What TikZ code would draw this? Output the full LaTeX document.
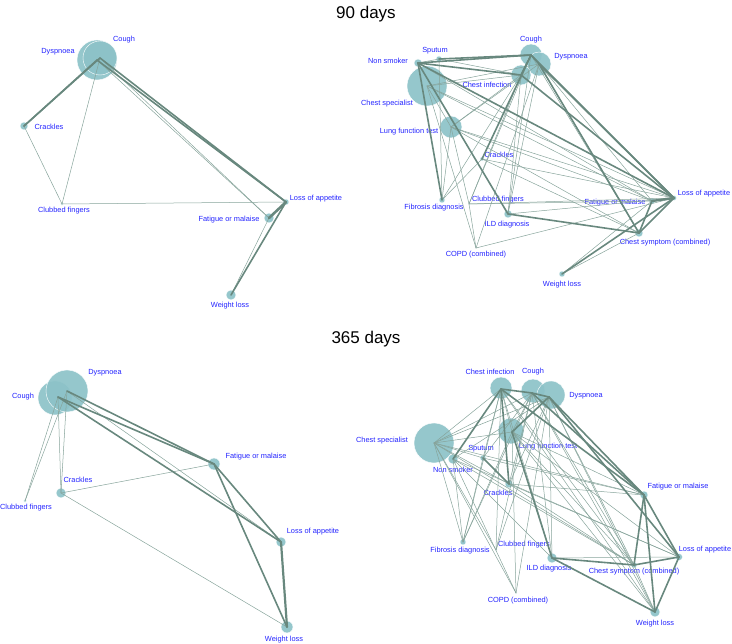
\documentclass[tikz,border=0pt]{standalone}
\usepackage{fontspec}
\setmainfont{Liberation Sans}
\usetikzlibrary{calc}

\definecolor{bubble}{RGB}{140,194,200}
\definecolor{edge}{RGB}{104,136,126}
\definecolor{thinedge}{RGB}{135,164,155}
\definecolor{labelblue}{RGB}{35,35,255}

\tikzset{
    bub/.style={fill=bubble, draw=white, line width=0.4pt, fill opacity=0.92},
    lab/.style={text=labelblue, font=\fontsize{7.4}{8}\selectfont, inner sep=0pt},
    heavy/.style={draw=edge, line width=1.6pt},
    light/.style={draw=thinedge, line width=0.5pt},
    paneltitle/.style={font=\fontsize{17}{20}\selectfont}
}

\begin{document}
\begin{tikzpicture}[x=1pt, y=-1pt, line cap=round]

    \useasboundingbox (0,0) rectangle (732,644);

    \node[paneltitle] (T90) at (366,14) {90 days};
    \node[paneltitle] (T365) at (366,339) {365 days};

    % 90 days, short list of symptoms
    \begin{scope}
        \coordinate (Acough) at (100,58);
        \coordinate (Adysp) at (97,60);
        \coordinate (Acrack) at (24,126);
        \coordinate (Aclub) at (62,204);
        \coordinate (Aloss) at (286,202);
        \coordinate (Afat) at (269,218);
        \coordinate (Aweight) at (231,295);

        \filldraw[bub] (Adysp) circle (20pt);
        \filldraw[bub] (Acough) circle (17pt);
        \filldraw[bub] (Acrack) circle (4pt);
        \filldraw[bub] (Aclub) circle (1.5pt);
        \filldraw[bub] (Aloss) circle (3pt);
        \filldraw[bub] (Afat) circle (5pt);
        \filldraw[bub] (Aweight) circle (5pt);

        \node[lab] (AcoughL) at (124,40) {Cough};
        \node[lab] (AdyspL) at (58,52) {Dyspnoea};
        \node[lab] (AcrackL) at (49,127) {Crackles};
        \node[lab] (AclubL) at (64,211) {Clubbed fingers};
        \node[lab] (AlossL) at (316,199) {Loss of appetite};
        \node[lab] (AfatL) at (229,220) {Fatigue or malaise};
        \node[lab] (AweightL) at (230,306) {Weight loss};
    \end{scope}

    \begin{scope}[light]
        \draw (Acough) -- (Aclub);
        \draw (Acrack) -- (Aclub);
        \draw (Aclub) -- (Aloss);
        \draw (Acough) -- (Afat);
        \draw (Adysp) -- (Afat);
        \draw (Afat) -- (Aweight);
    \end{scope}

    \begin{scope}[heavy]
        \draw (Acough) -- (Acrack);
        \draw (Adysp) -- (Acrack);
        \draw (Acough) -- (Aloss);
        \draw (Adysp) -- (Aloss);
        \draw[line width=2.6pt] (Afat) -- (Aloss);
        \draw (Aloss) -- (Aweight);
    \end{scope}

    % 90 days, all predictors
    \begin{scope}
        \coordinate (Bcough) at (531,55);
        \coordinate (Bdysp) at (539,64);
        \coordinate (Binf) at (521,75);
        \coordinate (Bsmoke) at (418,63);
        \coordinate (Bsput) at (439,59);
        \coordinate (Bspec) at (427,86);
        \coordinate (Blft) at (451,127);
        \coordinate (Bcrack) at (482,159);
        \coordinate (Bfib) at (442,200);
        \coordinate (Bclub) at (469,204);
        \coordinate (Bild) at (508,214);
        \coordinate (Bcopd) at (476,248);
        \coordinate (Bfat) at (652,201);
        \coordinate (Bloss) at (674,198);
        \coordinate (Bsym) at (639,233);
        \coordinate (Bweight) at (562,274);

        \filldraw[bub] (Bspec) circle (20pt);
        \filldraw[bub] (Bcough) circle (11pt);
        \filldraw[bub] (Bdysp) circle (12pt);
        \filldraw[bub] (Binf) circle (10pt);
        \filldraw[bub] (Bsmoke) circle (4pt);
        \filldraw[bub] (Bsput) circle (3pt);
        \filldraw[bub] (Blft) circle (11pt);
        \filldraw[bub] (Bcrack) circle (2pt);
        \filldraw[bub] (Bfib) circle (3pt);
        \filldraw[bub] (Bclub) circle (1pt);
        \filldraw[bub] (Bild) circle (4pt);
        \filldraw[bub] (Bcopd) circle (1pt);
        \filldraw[bub] (Bfat) circle (3pt);
        \filldraw[bub] (Bloss) circle (2.5pt);
        \filldraw[bub] (Bsym) circle (4pt);
        \filldraw[bub] (Bweight) circle (3pt);

        \node[lab] (BcoughL) at (531,40) {Cough};
        \node[lab] (BdyspL) at (571,57) {Dyspnoea};
        \node[lab] (BinfL) at (487,85) {Chest infection};
        \node[lab] (BsmokeL) at (388,61) {Non smoker};
        \node[lab] (BsputL) at (435,51) {Sputum};
        \node[lab] (BspecL) at (387,104) {Chest specialist};
        \node[lab] (BlftL) at (409,132) {Lung function test};
        \node[lab] (BcrackL) at (499,155) {Crackles};
        \node[lab] (BfibL) at (434,208) {Fibrosis diagnosis};
        \node[lab] (BclubL) at (498,200) {Clubbed fingers};
        \node[lab] (BildL) at (507,225) {ILD diagnosis};
        \node[lab] (BcopdL) at (476,255) {COPD (combined)};
        \node[lab] (BfatL) at (615,203) {Fatigue or malaise};
        \node[lab] (BlossL) at (704,194) {Loss of appetite};
        \node[lab] (BsymL) at (665,243) {Chest symptom (combined)};
        \node[lab] (BweightL) at (562,285) {Weight loss};
    \end{scope}

    \begin{scope}[light]
        \draw (Bspec) -- (Binf);
        \draw (Bspec) -- (Bdysp);
        \draw (Bspec) -- (Blft);
        \draw (Bspec) -- (Bcopd);
        \draw (Bspec) -- (Bloss);
        \draw (Bspec) -- (Bfat);
        \draw (Bsmoke) -- (Bsput);
        \draw (Bsmoke) -- (Bfat);
        \draw (Bsput) -- (Bfib);
        \draw (Bsput) -- (Binf);
        \draw (Blft) -- (Bfib);
        \draw (Blft) -- (Bclub);
        \draw (Blft) -- (Bloss);
        \draw (Blft) -- (Bfat);
        \draw (Blft) -- (Bsym);
        \draw (Blft) -- (Bdysp);
        \draw (Binf) -- (Blft);
        \draw (Binf) -- (Bfib);
        \draw (Binf) -- (Bclub);
        \draw (Binf) -- (Bild);
        \draw (Bcough) -- (Bild);
        \draw (Bcough) -- (Bclub);
        \draw (Bcough) -- (Bsym);
        \draw (Bdysp) -- (Bild);
        \draw (Bdysp) -- (Bcopd);
        \draw (Bdysp) -- (Bsym);
        \draw (Bdysp) -- (Bfat);
        \draw (Bcrack) -- (Bfib);
        \draw (Bcrack) -- (Bloss);
        \draw (Bcrack) -- (Bsym);
        \draw (Bclub) -- (Bfat);
        \draw (Bclub) -- (Bloss);
        \draw (Bclub) -- (Bcopd);
        \draw (Bcopd) -- (Bloss);
        \draw (Bild) -- (Bloss);
        \draw (Bfat) -- (Bweight);
        \draw (Bsym) -- (Bweight);
    \end{scope}

    \begin{scope}[heavy]
        \draw (Bsmoke) -- (Bcough);
        \draw (Bsput) -- (Bcough);
        \draw (Bsmoke) -- (Binf);
        \draw (Bsmoke) -- (Bfib);
        \draw (Bsmoke) -- (Bild);
        \draw (Bsmoke) -- (Bloss);
        \draw (Bcrack) -- (Bcough);
        \draw (Binf) -- (Bcough);
        \draw (Bcough) -- (Bdysp);
        \draw (Bcough) -- (Bloss);
        \draw (Bdysp) -- (Bloss);
        \draw (Binf) -- (Bloss);
        \draw (Bdysp) -- (Bsym);
        \draw (Bild) -- (Bsym);
        \draw[line width=2.4pt] (Bfat) -- (Bloss);
        \draw (Bsym) -- (Bloss);
        \draw (Bfat) -- (Bsym);
        \draw (Bloss) -- (Bweight);
    \end{scope}

    % 365 days, short list of symptoms
    \begin{scope}
        \coordinate (Ccough) at (58,397);
        \coordinate (Cdysp) at (67,391);
        \coordinate (Ccrack) at (61,493);
        \coordinate (Cclub) at (25,501);
        \coordinate (Cfat) at (214,464);
        \coordinate (Closs) at (281,542);
        \coordinate (Cweight) at (287,627);

        \filldraw[bub] (55,398) circle (17pt);
        \filldraw[bub] (Cdysp) circle (21pt);
        \filldraw[bub] (Ccrack) circle (5pt);
        \filldraw[bub] (Cclub) circle (1.5pt);
        \filldraw[bub] (Cfat) circle (6pt);
        \filldraw[bub] (Closs) circle (5pt);
        \filldraw[bub] (Cweight) circle (6pt);

        \node[lab] (CdyspL) at (105,373) {Dyspnoea};
        \node[lab] (CcoughL) at (23,397) {Cough};
        \node[lab] (CcrackL) at (78,480) {Crackles};
        \node[lab] (CclubL) at (26,508) {Clubbed fingers};
        \node[lab] (CfatL) at (256,457) {Fatigue or malaise};
        \node[lab] (ClossL) at (313,532) {Loss of appetite};
        \node[lab] (CweightL) at (284,640) {Weight loss};
    \end{scope}

    \begin{scope}[light]
        \draw (Ccough) -- (Cclub);
        \draw (Cdysp) -- (Cclub);
        \draw (Ccough) -- (Ccrack);
        \draw (Cdysp) -- (Ccrack);
        \draw (Cdysp) -- (Closs);
        \draw (Ccrack) -- (Cfat);
        \draw (Ccrack) -- (Cweight);
    \end{scope}

    \begin{scope}[heavy]
        \draw (Ccough) -- (Cfat);
        \draw (Cdysp) -- (Cfat);
        \draw (Ccough) -- (Closs);
        \draw (Cfat) -- (Closs);
        \draw (Cfat) -- (Cweight);
        \draw[line width=2.2pt] (Closs) -- (Cweight);
    \end{scope}

    % 365 days, all predictors
    \begin{scope}
        \coordinate (Dinf) at (501,389);
        \coordinate (Dcough) at (532,393);
        \coordinate (Ddysp) at (549,397);
        \coordinate (Dlft) at (512,432);
        \coordinate (Dspec) at (434,443);
        \coordinate (Dsmoke) at (453,459);
        \coordinate (Dsput) at (483,458);
        \coordinate (Dcrack) at (509,484);
        \coordinate (Dfib) at (463,542);
        \coordinate (Dclub) at (496,550);
        \coordinate (Dild) at (552,558);
        \coordinate (Dcopd) at (516,593);
        \coordinate (Dfat) at (644,495);
        \coordinate (Dloss) at (679,557);
        \coordinate (Dsym) at (634,565);
        \coordinate (Dweight) at (655,612);

        \filldraw[bub] (Dspec) circle (20pt);
        \filldraw[bub] (501,388) circle (11pt);
        \filldraw[bub] (533,391) circle (12pt);
        \filldraw[bub] (551,395) circle (14pt);
        \filldraw[bub] (511,431) circle (13pt);
        \filldraw[bub] (Dsmoke) circle (5pt);
        \filldraw[bub] (Dsput) circle (3pt);
        \filldraw[bub] (Dcrack) circle (4pt);
        \filldraw[bub] (Dfib) circle (3pt);
        \filldraw[bub] (Dclub) circle (1pt);
        \filldraw[bub] (Dild) circle (5pt);
        \filldraw[bub] (Dcopd) circle (1pt);
        \filldraw[bub] (Dfat) circle (4pt);
        \filldraw[bub] (Dloss) circle (3.5pt);
        \filldraw[bub] (Dsym) circle (3pt);
        \filldraw[bub] (Dweight) circle (5pt);

        \node[lab] (DinfL) at (490,372) {Chest infection};
        \node[lab] (DcoughL) at (533,372) {Cough};
        \node[lab] (DdyspL) at (586,396) {Dyspnoea};
        \node[lab] (DlftL) at (548,447) {Lung function test};
        \node[lab] (DspecL) at (382,441) {Chest specialist};
        \node[lab] (DsmokeL) at (453,470) {Non smoker};
        \node[lab] (DsputL) at (481,449) {Sputum};
        \node[lab] (DcrackL) at (498,493) {Crackles};
        \node[lab] (DfibL) at (460,551) {Fibrosis diagnosis};
        \node[lab] (DclubL) at (524,545) {Clubbed fingers};
        \node[lab] (DildL) at (549,569) {ILD diagnosis};
        \node[lab] (DcopdL) at (518,601) {COPD (combined)};
        \node[lab] (DfatL) at (678,487) {Fatigue or malaise};
        \node[lab] (DlossL) at (705,550) {Loss of appetite};
        \node[lab] (DsymL) at (634,572) {Chest symptom (combined)};
        \node[lab] (DweightL) at (655,624) {Weight loss};
    \end{scope}

    \begin{scope}[light]
        \draw (Dspec) -- (Dinf);
        \draw (Dspec) -- (Dcough);
        \draw (Dspec) -- (Ddysp);
        \draw (Dspec) -- (Dlft);
        \draw (Dspec) -- (Dsput);
        \draw (Dspec) -- (Dfib);
        \draw (Dspec) -- (Dclub);
        \draw (Dspec) -- (Dcopd);
        \draw (Dspec) -- (Dcrack);
        \draw (Dspec) -- (Dsym);
        \draw (Dspec) -- (Dfat);
        \draw (Dsmoke) -- (Dfib);
        \draw (Dsmoke) -- (Dcopd);
        \draw (Dsmoke) -- (Dsym);
        \draw (Dsmoke) -- (Dild);
        \draw (Dsmoke) -- (Dloss);
        \draw (Dsmoke) -- (Ddysp);
        \draw (Dsput) -- (Dfib);
        \draw (Dsput) -- (Dfat);
        \draw (Dsput) -- (Dcough);
        \draw (Dinf) -- (Dfib);
        \draw (Dinf) -- (Dclub);
        \draw (Dinf) -- (Dild);
        \draw (Dinf) -- (Dsym);
        \draw (Dinf) -- (Dweight);
        \draw (Dinf) -- (Dlft);
        \draw (Dinf) -- (Dsput);
        \draw (Dcough) -- (Dcrack);
        \draw (Dcough) -- (Dclub);
        \draw (Dcough) -- (Dild);
        \draw (Dcough) -- (Dsym);
        \draw (Dcough) -- (Dweight);
        \draw (Dcough) -- (Dlft);
        \draw (Dcough) -- (Dfib);
        \draw (Ddysp) -- (Dclub);
        \draw (Ddysp) -- (Dcopd);
        \draw (Ddysp) -- (Dcrack);
        \draw (Ddysp) -- (Dsym);
        \draw (Ddysp) -- (Dweight);
        \draw (Ddysp) -- (Dild);
        \draw (Dlft) -- (Dfib);
        \draw (Dlft) -- (Dcopd);
        \draw (Dlft) -- (Dfat);
        \draw (Dlft) -- (Dloss);
        \draw (Dlft) -- (Dsym);
        \draw (Dlft) -- (Dweight);
        \draw (Dcrack) -- (Dfat);
        \draw (Dcrack) -- (Dloss);
        \draw (Dcrack) -- (Dsym);
        \draw (Dild) -- (Dloss);
        \draw (Dsym) -- (Dweight);
    \end{scope}

    \begin{scope}[heavy]
        \draw (Dinf) -- (Dcough);
        \draw (Dinf) -- (Dcrack);
        \draw (Dinf) -- (Dsmoke);
        \draw (Dinf) -- (Dfat);
        \draw (Dcough) -- (Ddysp);
        \draw (Dcough) -- (Dfat);
        \draw (Dlft) -- (Ddysp);
        \draw (Dlft) -- (Dild);
        \draw (Ddysp) -- (Dfat);
        \draw (Ddysp) -- (Dloss);
        \draw (Dsput) -- (Dcrack);
        \draw (Dild) -- (Dsym);
        \draw (Dild) -- (Dweight);
        \draw (Dfat) -- (Dloss);
        \draw (Dfat) -- (Dweight);
        \draw (Dfat) -- (Dsym);
        \draw (Dloss) -- (Dweight);
        \draw (Dsym) -- (Dloss);
    \end{scope}

\end{tikzpicture}
\end{document}
